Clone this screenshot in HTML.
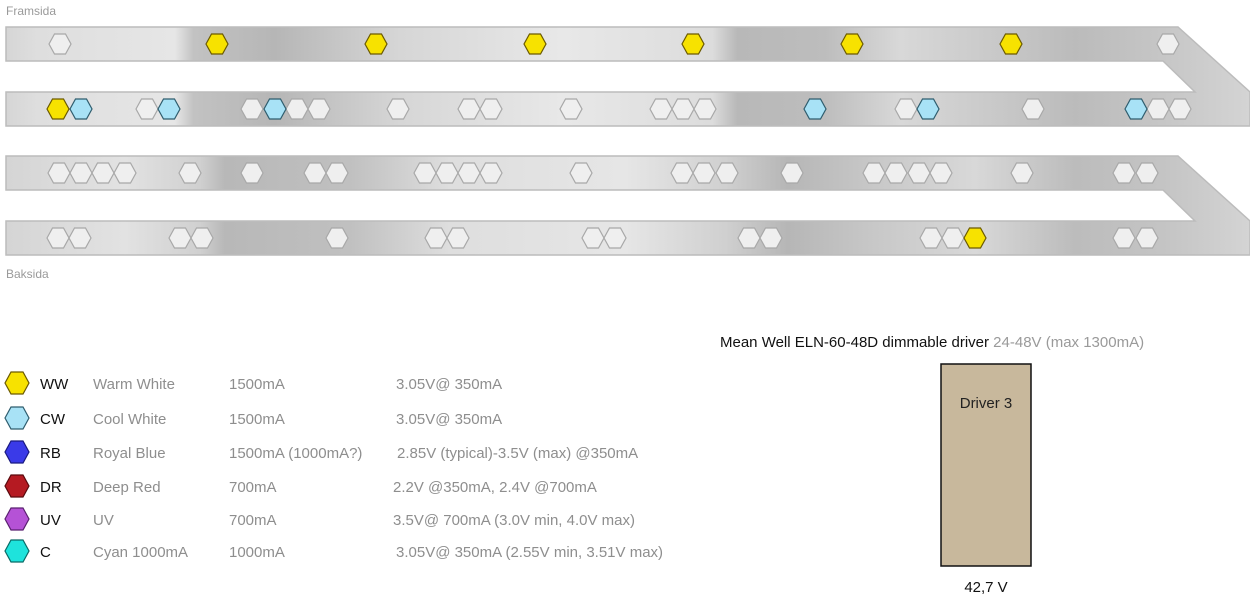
<!DOCTYPE html>
<html><head><meta charset="utf-8"><style>
html,body{margin:0;padding:0;background:#fff;width:1250px;height:599px;overflow:hidden}
svg{display:block}
text{font-family:"Liberation Sans",sans-serif}
</style></head><body>
<svg width="1250" height="599" viewBox="0 0 1250 599" xmlns="http://www.w3.org/2000/svg">
<defs>
<linearGradient id="g1" gradientUnits="userSpaceOnUse" x1="0" y1="0" x2="1250" y2="0">
<stop offset="0" stop-color="#d4d4d4"/><stop offset="0.03" stop-color="#dedede"/>
<stop offset="0.14" stop-color="#e6e6e6"/><stop offset="0.155" stop-color="#c2c2c2"/>
<stop offset="0.22" stop-color="#b6b6b6"/><stop offset="0.32" stop-color="#d6d6d6"/>
<stop offset="0.45" stop-color="#e8e8e8"/><stop offset="0.57" stop-color="#dcdcdc"/>
<stop offset="0.59" stop-color="#b8b8b8"/><stop offset="0.66" stop-color="#bdbdbd"/>
<stop offset="0.72" stop-color="#d8d8d8"/><stop offset="0.8" stop-color="#c8c8c8"/>
<stop offset="0.86" stop-color="#bbbbbb"/><stop offset="0.93" stop-color="#c6c6c6"/>
<stop offset="1" stop-color="#d4d4d4"/>
</linearGradient>
<linearGradient id="g2" gradientUnits="userSpaceOnUse" x1="0" y1="0" x2="1250" y2="0">
<stop offset="0" stop-color="#d4d4d4"/><stop offset="0.1" stop-color="#e2e2e2"/>
<stop offset="0.16" stop-color="#d0d0d0"/><stop offset="0.18" stop-color="#b8b8b8"/>
<stop offset="0.28" stop-color="#c0c0c0"/><stop offset="0.36" stop-color="#dedede"/>
<stop offset="0.5" stop-color="#e6e6e6"/><stop offset="0.58" stop-color="#d0d0d0"/>
<stop offset="0.63" stop-color="#b6b6b6"/><stop offset="0.7" stop-color="#c8c8c8"/>
<stop offset="0.78" stop-color="#d8d8d8"/><stop offset="0.86" stop-color="#bcbcbc"/>
<stop offset="0.93" stop-color="#c4c4c4"/><stop offset="1" stop-color="#d4d4d4"/>
</linearGradient>
<polygon id="h" points="-11,0 -5.5,-10 5.5,-10 11,0 5.5,10 -5.5,10"/>
<polygon id="L" points="-12,0 -6,-11 6,-11 12,0 6,11 -6,11"/>
</defs>

<text x="6" y="15" font-size="12" fill="#9a9a9a">Framsida</text>
<text x="6" y="278" font-size="12" fill="#9a9a9a">Baksida</text>

<polygon points="6,27 1178,27 1250,92 1250,126 6,126 6,92 1195,92 1163,61 6,61" fill="url(#g1)" stroke="#bcbcbc" stroke-width="1.5"/>
<polygon points="6,156 1178,156 1250,221 1250,255 6,255 6,221 1195,221 1163,190 6,190" fill="url(#g2)" stroke="#bcbcbc" stroke-width="1.5"/>

<g stroke="#a8a8a8" stroke-width="1.2" fill="#efefef">
<!-- row1 whites -->
<use href="#h" x="60" y="44"/><use href="#h" x="1168" y="44"/>
<!-- row2 whites -->
<use href="#h" x="147" y="109"/><use href="#h" x="252" y="109"/><use href="#h" x="297" y="109"/><use href="#h" x="319" y="109"/>
<use href="#h" x="398" y="109"/><use href="#h" x="469" y="109"/><use href="#h" x="491" y="109"/><use href="#h" x="571" y="109"/>
<use href="#h" x="661" y="109"/><use href="#h" x="683" y="109"/><use href="#h" x="705" y="109"/><use href="#h" x="906" y="109"/>
<use href="#h" x="1033" y="109"/><use href="#h" x="1158" y="109"/><use href="#h" x="1180" y="109"/>
<!-- row3 -->
<use href="#h" x="59" y="173"/><use href="#h" x="81" y="173"/><use href="#h" x="103" y="173"/><use href="#h" x="125" y="173"/>
<use href="#h" x="190" y="173"/><use href="#h" x="252" y="173"/><use href="#h" x="315" y="173"/><use href="#h" x="337" y="173"/>
<use href="#h" x="425" y="173"/><use href="#h" x="447" y="173"/><use href="#h" x="469" y="173"/><use href="#h" x="491" y="173"/>
<use href="#h" x="581" y="173"/><use href="#h" x="682" y="173"/><use href="#h" x="704" y="173"/><use href="#h" x="727" y="173"/>
<use href="#h" x="792" y="173"/><use href="#h" x="874" y="173"/><use href="#h" x="896" y="173"/><use href="#h" x="919" y="173"/><use href="#h" x="941" y="173"/>
<use href="#h" x="1022" y="173"/><use href="#h" x="1124" y="173"/><use href="#h" x="1147" y="173"/>
<!-- row4 -->
<use href="#h" x="58" y="238"/><use href="#h" x="80" y="238"/><use href="#h" x="180" y="238"/><use href="#h" x="202" y="238"/>
<use href="#h" x="337" y="238"/><use href="#h" x="436" y="238"/><use href="#h" x="458" y="238"/><use href="#h" x="593" y="238"/><use href="#h" x="615" y="238"/>
<use href="#h" x="749" y="238"/><use href="#h" x="771" y="238"/><use href="#h" x="931" y="238"/><use href="#h" x="953" y="238"/>
<use href="#h" x="1124" y="238"/><use href="#h" x="1147" y="238"/>
</g>
<g stroke="#6b5a00" stroke-width="1.2" fill="#f7e200">
<use href="#h" x="217" y="44"/><use href="#h" x="376" y="44"/><use href="#h" x="535" y="44"/><use href="#h" x="693" y="44"/>
<use href="#h" x="852" y="44"/><use href="#h" x="1011" y="44"/><use href="#h" x="58" y="109"/><use href="#h" x="975" y="238"/>
</g>
<g stroke="#2f5d6e" stroke-width="1.2" fill="#a8e2f6">
<use href="#h" x="81" y="109"/><use href="#h" x="169" y="109"/><use href="#h" x="275" y="109"/><use href="#h" x="815" y="109"/>
<use href="#h" x="928" y="109"/><use href="#h" x="1136" y="109"/>
</g>

<!-- legend -->
<g stroke-width="1.2">
<use href="#L" x="17" y="383" fill="#f7e200" stroke="#6b5a00"/>
<use href="#L" x="17" y="418" fill="#a8e2f6" stroke="#2f5d6e"/>
<use href="#L" x="17" y="452" fill="#3a3ae8" stroke="#1a1a80"/>
<use href="#L" x="17" y="486" fill="#b51a22" stroke="#5a0a0e"/>
<use href="#L" x="17" y="519" fill="#b552d6" stroke="#5a2070"/>
<use href="#L" x="17" y="551" fill="#1ee3dc" stroke="#0a6a66"/>
</g>
<g font-size="15" fill="#111">
<text x="40" y="389">WW</text><text x="40" y="424">CW</text><text x="40" y="458">RB</text>
<text x="40" y="492">DR</text><text x="40" y="525">UV</text><text x="40" y="557">C</text>
</g>
<g font-size="15" fill="#8e8e8e">
<text x="93" y="389">Warm White</text><text x="93" y="424">Cool White</text><text x="93" y="458">Royal Blue</text>
<text x="93" y="492">Deep Red</text><text x="93" y="525">UV</text><text x="93" y="557">Cyan 1000mA</text>
<text x="229" y="389">1500mA</text><text x="229" y="424">1500mA</text><text x="229" y="458">1500mA (1000mA?)</text>
<text x="229" y="492">700mA</text><text x="229" y="525">700mA</text><text x="229" y="557">1000mA</text>
<text x="396" y="389">3.05V@ 350mA</text><text x="396" y="424">3.05V@ 350mA</text>
<text x="397" y="458">2.85V (typical)-3.5V (max) @350mA</text>
<text x="393" y="492">2.2V @350mA, 2.4V @700mA</text>
<text x="393" y="525">3.5V@ 700mA (3.0V min, 4.0V max)</text>
<text x="396" y="557">3.05V@ 350mA (2.55V min, 3.51V max)</text>
</g>

<text x="720" y="347" font-size="15" fill="#111">Mean Well ELN-60-48D dimmable driver <tspan fill="#9a9a9a">24-48V (max 1300mA)</tspan></text>
<rect x="941" y="364" width="90" height="202" fill="#c8b89c" stroke="#111" stroke-width="1.5"/>
<text x="986" y="408" font-size="15" fill="#222" text-anchor="middle">Driver 3</text>
<text x="986" y="592" font-size="15" fill="#111" text-anchor="middle">42,7 V</text>
</svg>
</body></html>
